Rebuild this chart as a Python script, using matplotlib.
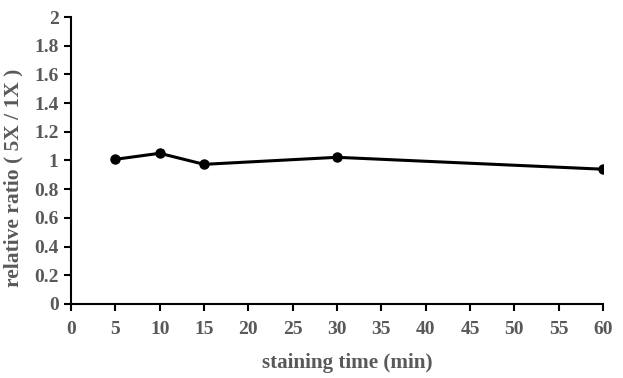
import matplotlib
matplotlib.use('Agg')
import matplotlib.pyplot as plt

# staining time (min) and relative ratio (5X / 1X)
time_min = [5, 10, 15, 30, 60]
ratio = [1.008, 1.050, 0.973, 1.022, 0.939]
x_ticks = list(range(0, 61, 5))
y_ticks = [0, 0.2, 0.4, 0.6, 0.8, 1, 1.2, 1.4, 1.6, 1.8, 2]
y_tick_labels = ['0', '0.2', '0.4', '0.6', '0.8', '1', '1.2', '1.4', '1.6', '1.8', '2']

plt.rcParams['font.family'] = ['Liberation Serif', 'DejaVu Serif']
plt.rcParams['font.weight'] = 'bold'
text_color = '#595959'

fig = plt.figure(figsize=(6.23, 3.78), dpi=100)
ax = fig.add_axes([0.114, 0.196, 0.854, 0.759])

ax.plot(time_min, ratio, color='black', linewidth=2.2, marker='o', markersize=6.5)

ax.set_xlim(0, 60)
ax.set_ylim(0, 2)
ax.set_xticks(x_ticks)
ax.set_yticks(y_ticks)
ax.set_yticklabels(y_tick_labels)

for side in ['top', 'right']:
    ax.spines[side].set_visible(False)
for side in ['left', 'bottom']:
    ax.spines[side].set_linewidth(1.5)
    ax.spines[side].set_color('black')

ax.tick_params(axis='both', direction='out', length=5, width=1.5, colors='black',
               labelcolor=text_color, labelsize=14)
ax.tick_params(axis='x', pad=7)
ax.tick_params(axis='y', pad=4)

ax.set_xlabel('staining time (min)', fontsize=15.2, fontweight='bold', color=text_color)
ax.set_ylabel('relative ratio ( 5X / 1X )', fontsize=15.5, fontweight='bold', color=text_color)
ax.xaxis.set_label_coords(0.52, -0.172)
ax.yaxis.set_label_coords(-0.090, 0.439)

fig.savefig('out.png', dpi=100)
